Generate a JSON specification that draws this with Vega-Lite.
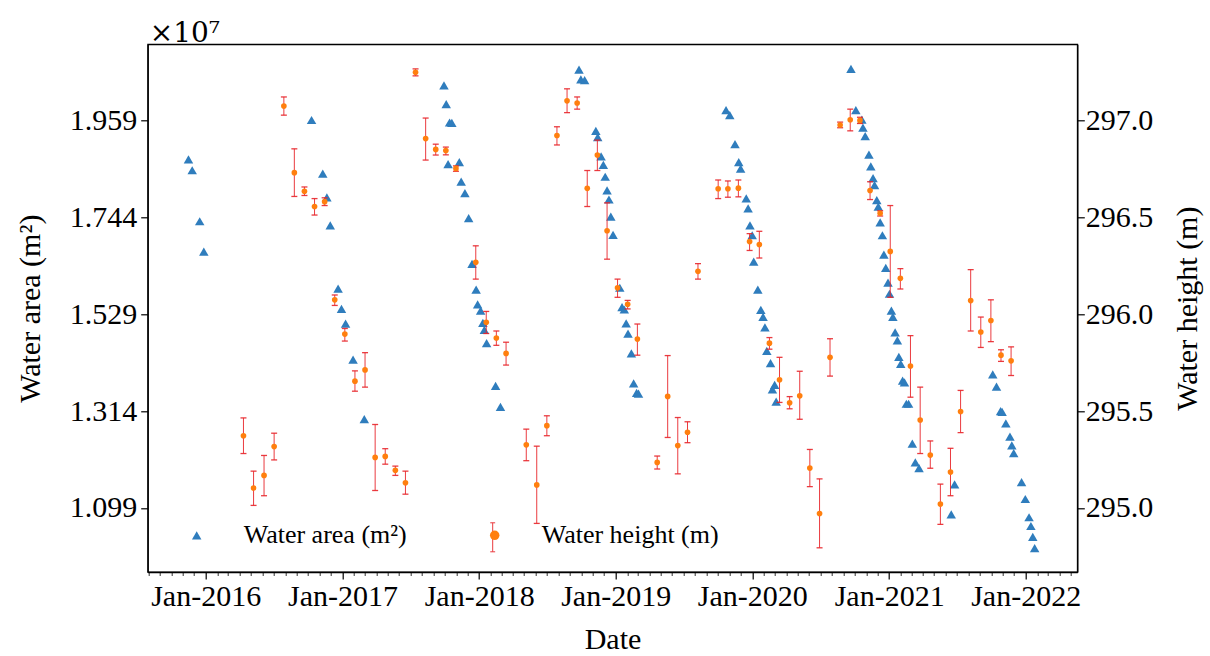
{
  "$schema": "https://vega.github.io/schema/vega-lite/v6.json",
  "width": 929.6,
  "height": 527.7,
  "autosize": {"type": "none"},
  "padding": {"left": 147.7, "top": 44.3, "right": 132.7, "bottom": 84},
  "background": "white",
  "config": {
    "font": "Liberation Serif",
    "view": {"stroke": "#000", "strokeWidth": 1.3},
    "axis": {
      "labelFont": "Liberation Serif", "titleFont": "Liberation Serif",
      "labelFontSize": 30, "titleFontSize": 30, "titleFontWeight": "normal",
      "labelColor": "#000", "titleColor": "#000", "tickColor": "#000", "domainColor": "#000",
      "grid": false, "tickSize": 7, "tickWidth": 1.2, "domainWidth": 1.3
    }
  },
  "title": {"text": "×10⁷", "anchor": "start", "frame": "group", "fontSize": 28, "fontWeight": "normal", "font": "DejaVu Serif", "color": "#000", "offset": -4, "dx": 2},
  "datasets": {
    "area": [
      {"date": "2015-11-16", "area": 18730000, "series": "Water area (m²)"},
      {"date": "2015-11-26", "area": 18490000, "series": "Water area (m²)"},
      {"date": "2015-12-16", "area": 17357000, "series": "Water area (m²)"},
      {"date": "2015-12-27", "area": 16680000, "series": "Water area (m²)"},
      {"date": "2016-10-10", "area": 19606000, "series": "Water area (m²)"},
      {"date": "2016-11-09", "area": 18415000, "series": "Water area (m²)"},
      {"date": "2016-11-20", "area": 17886000, "series": "Water area (m²)"},
      {"date": "2016-11-29", "area": 17264000, "series": "Water area (m²)"},
      {"date": "2016-12-20", "area": 15863000, "series": "Water area (m²)"},
      {"date": "2016-12-29", "area": 15412000, "series": "Water area (m²)"},
      {"date": "2017-01-09", "area": 15085000, "series": "Water area (m²)"},
      {"date": "2017-01-29", "area": 14284000, "series": "Water area (m²)"},
      {"date": "2017-02-28", "area": 12961000, "series": "Water area (m²)"},
      {"date": "2017-09-29", "area": 20376000, "series": "Water area (m²)"},
      {"date": "2017-10-05", "area": 19956000, "series": "Water area (m²)"},
      {"date": "2017-10-10", "area": 18625000, "series": "Water area (m²)"},
      {"date": "2017-10-14", "area": 19550000, "series": "Water area (m²)"},
      {"date": "2017-10-20", "area": 19540000, "series": "Water area (m²)"},
      {"date": "2017-11-09", "area": 18670000, "series": "Water area (m²)"},
      {"date": "2017-11-14", "area": 18236000, "series": "Water area (m²)"},
      {"date": "2017-11-24", "area": 17980000, "series": "Water area (m²)"},
      {"date": "2017-12-04", "area": 17427000, "series": "Water area (m²)"},
      {"date": "2017-12-13", "area": 16408000, "series": "Water area (m²)"},
      {"date": "2017-12-24", "area": 15840000, "series": "Water area (m²)"},
      {"date": "2017-12-28", "area": 15510000, "series": "Water area (m²)"},
      {"date": "2018-01-05", "area": 15373000, "series": "Water area (m²)"},
      {"date": "2018-01-11", "area": 15100000, "series": "Water area (m²)"},
      {"date": "2018-01-15", "area": 14945000, "series": "Water area (m²)"},
      {"date": "2018-01-21", "area": 14650000, "series": "Water area (m²)"},
      {"date": "2018-02-14", "area": 13701000, "series": "Water area (m²)"},
      {"date": "2018-02-27", "area": 13234000, "series": "Water area (m²)"},
      {"date": "2018-09-25", "area": 20726000, "series": "Water area (m²)"},
      {"date": "2018-09-30", "area": 20508000, "series": "Water area (m²)"},
      {"date": "2018-10-10", "area": 20492000, "series": "Water area (m²)"},
      {"date": "2018-11-09", "area": 19364000, "series": "Water area (m²)"},
      {"date": "2018-11-14", "area": 19224000, "series": "Water area (m²)"},
      {"date": "2018-11-23", "area": 18796000, "series": "Water area (m²)"},
      {"date": "2018-11-29", "area": 18610000, "series": "Water area (m²)"},
      {"date": "2018-12-04", "area": 18345000, "series": "Water area (m²)"},
      {"date": "2018-12-09", "area": 18042000, "series": "Water area (m²)"},
      {"date": "2018-12-14", "area": 17840000, "series": "Water area (m²)"},
      {"date": "2018-12-19", "area": 17458000, "series": "Water area (m²)"},
      {"date": "2018-12-25", "area": 17054000, "series": "Water area (m²)"},
      {"date": "2019-01-12", "area": 15880000, "series": "Water area (m²)"},
      {"date": "2019-01-18", "area": 15450000, "series": "Water area (m²)"},
      {"date": "2019-01-24", "area": 15397000, "series": "Water area (m²)"},
      {"date": "2019-01-29", "area": 15090000, "series": "Water area (m²)"},
      {"date": "2019-02-03", "area": 14860000, "series": "Water area (m²)"},
      {"date": "2019-02-12", "area": 14424000, "series": "Water area (m²)"},
      {"date": "2019-02-18", "area": 13755000, "series": "Water area (m²)"},
      {"date": "2019-02-26", "area": 13545000, "series": "Water area (m²)"},
      {"date": "2019-03-03", "area": 13530000, "series": "Water area (m²)"},
      {"date": "2019-10-23", "area": 19823000, "series": "Water area (m²)"},
      {"date": "2019-11-02", "area": 19714000, "series": "Water area (m²)"},
      {"date": "2019-11-16", "area": 19069000, "series": "Water area (m²)"},
      {"date": "2019-11-26", "area": 18672000, "series": "Water area (m²)"},
      {"date": "2019-12-01", "area": 18524000, "series": "Water area (m²)"},
      {"date": "2019-12-16", "area": 17863000, "series": "Water area (m²)"},
      {"date": "2019-12-21", "area": 17645000, "series": "Water area (m²)"},
      {"date": "2019-12-26", "area": 17264000, "series": "Water area (m²)"},
      {"date": "2020-01-01", "area": 17046000, "series": "Water area (m²)"},
      {"date": "2020-01-05", "area": 16462000, "series": "Water area (m²)"},
      {"date": "2020-01-16", "area": 15840000, "series": "Water area (m²)"},
      {"date": "2020-01-24", "area": 15389000, "series": "Water area (m²)"},
      {"date": "2020-01-30", "area": 15233000, "series": "Water area (m²)"},
      {"date": "2020-02-04", "area": 15000000, "series": "Water area (m²)"},
      {"date": "2020-02-09", "area": 14479000, "series": "Water area (m²)"},
      {"date": "2020-02-19", "area": 14206000, "series": "Water area (m²)"},
      {"date": "2020-02-24", "area": 13623000, "series": "Water area (m²)"},
      {"date": "2020-03-01", "area": 13724000, "series": "Water area (m²)"},
      {"date": "2020-03-05", "area": 13350000, "series": "Water area (m²)"},
      {"date": "2020-09-21", "area": 20741000, "series": "Water area (m²)"},
      {"date": "2020-10-04", "area": 19823000, "series": "Water area (m²)"},
      {"date": "2020-10-20", "area": 19613000, "series": "Water area (m²)"},
      {"date": "2020-10-23", "area": 19434000, "series": "Water area (m²)"},
      {"date": "2020-10-29", "area": 19248000, "series": "Water area (m²)"},
      {"date": "2020-11-08", "area": 18835000, "series": "Water area (m²)"},
      {"date": "2020-11-13", "area": 18578000, "series": "Water area (m²)"},
      {"date": "2020-11-19", "area": 18314000, "series": "Water area (m²)"},
      {"date": "2020-11-23", "area": 18158000, "series": "Water area (m²)"},
      {"date": "2020-11-29", "area": 17824000, "series": "Water area (m²)"},
      {"date": "2020-12-03", "area": 17684000, "series": "Water area (m²)"},
      {"date": "2020-12-08", "area": 17334000, "series": "Water area (m²)"},
      {"date": "2020-12-14", "area": 17046000, "series": "Water area (m²)"},
      {"date": "2020-12-18", "area": 16618000, "series": "Water area (m²)"},
      {"date": "2020-12-23", "area": 16322000, "series": "Water area (m²)"},
      {"date": "2020-12-29", "area": 15996000, "series": "Water area (m²)"},
      {"date": "2021-01-02", "area": 15747000, "series": "Water area (m²)"},
      {"date": "2021-01-07", "area": 15373000, "series": "Water area (m²)"},
      {"date": "2021-01-11", "area": 15233000, "series": "Water area (m²)"},
      {"date": "2021-01-17", "area": 14890000, "series": "Water area (m²)"},
      {"date": "2021-01-23", "area": 14712000, "series": "Water area (m²)"},
      {"date": "2021-01-27", "area": 14346000, "series": "Water area (m²)"},
      {"date": "2021-02-01", "area": 14190000, "series": "Water area (m²)"},
      {"date": "2021-02-06", "area": 13817000, "series": "Water area (m²)"},
      {"date": "2021-02-11", "area": 13778000, "series": "Water area (m²)"},
      {"date": "2021-02-16", "area": 13304000, "series": "Water area (m²)"},
      {"date": "2021-02-22", "area": 13304000, "series": "Water area (m²)"},
      {"date": "2021-03-04", "area": 12417000, "series": "Water area (m²)"},
      {"date": "2021-03-12", "area": 12004000, "series": "Water area (m²)"},
      {"date": "2021-03-22", "area": 11872000, "series": "Water area (m²)"},
      {"date": "2021-06-16", "area": 10845000, "series": "Water area (m²)"},
      {"date": "2021-06-25", "area": 11514000, "series": "Water area (m²)"},
      {"date": "2021-10-05", "area": 13957000, "series": "Water area (m²)"},
      {"date": "2021-10-15", "area": 13685000, "series": "Water area (m²)"},
      {"date": "2021-10-26", "area": 13140000, "series": "Water area (m²)"},
      {"date": "2021-10-30", "area": 13125000, "series": "Water area (m²)"},
      {"date": "2021-11-09", "area": 12868000, "series": "Water area (m²)"},
      {"date": "2021-11-20", "area": 12572000, "series": "Water area (m²)"},
      {"date": "2021-11-25", "area": 12378000, "series": "Water area (m²)"},
      {"date": "2021-11-30", "area": 12207000, "series": "Water area (m²)"},
      {"date": "2021-12-21", "area": 11561000, "series": "Water area (m²)"},
      {"date": "2021-12-31", "area": 11188000, "series": "Water area (m²)"},
      {"date": "2022-01-10", "area": 10783000, "series": "Water area (m²)"},
      {"date": "2022-01-15", "area": 10589000, "series": "Water area (m²)"},
      {"date": "2022-01-20", "area": 10348000, "series": "Water area (m²)"},
      {"date": "2022-01-25", "area": 10099000, "series": "Water area (m²)"}
    ],
    "height": [
      {"date": "2016-04-11", "height": 295.373, "low": 295.281, "high": 295.465, "series": "Water height (m)"},
      {"date": "2016-05-08", "height": 295.103, "low": 295.013, "high": 295.190, "series": "Water height (m)"},
      {"date": "2016-06-05", "height": 295.168, "low": 295.063, "high": 295.271, "series": "Water height (m)"},
      {"date": "2016-07-02", "height": 295.317, "low": 295.248, "high": 295.386, "series": "Water height (m)"},
      {"date": "2016-07-28", "height": 297.076, "low": 297.029, "high": 297.123, "series": "Water height (m)"},
      {"date": "2016-08-25", "height": 296.732, "low": 296.609, "high": 296.855, "series": "Water height (m)"},
      {"date": "2016-09-21", "height": 296.636, "low": 296.614, "high": 296.658, "series": "Water height (m)"},
      {"date": "2016-10-18", "height": 296.557, "low": 296.513, "high": 296.598, "series": "Water height (m)"},
      {"date": "2016-11-14", "height": 296.582, "low": 296.562, "high": 296.602, "series": "Water height (m)"},
      {"date": "2016-12-11", "height": 296.075, "low": 296.046, "high": 296.100, "series": "Water height (m)"},
      {"date": "2017-01-07", "height": 295.898, "low": 295.862, "high": 295.927, "series": "Water height (m)"},
      {"date": "2017-02-03", "height": 295.655, "low": 295.603, "high": 295.708, "series": "Water height (m)"},
      {"date": "2017-03-02", "height": 295.713, "low": 295.624, "high": 295.802, "series": "Water height (m)"},
      {"date": "2017-03-29", "height": 295.261, "low": 295.090, "high": 295.431, "series": "Water height (m)"},
      {"date": "2017-04-25", "height": 295.266, "low": 295.226, "high": 295.306, "series": "Water height (m)"},
      {"date": "2017-05-22", "height": 295.194, "low": 295.168, "high": 295.216, "series": "Water height (m)"},
      {"date": "2017-06-18", "height": 295.130, "low": 295.071, "high": 295.190, "series": "Water height (m)"},
      {"date": "2017-07-15", "height": 297.250, "low": 297.232, "high": 297.268, "series": "Water height (m)"},
      {"date": "2017-08-11", "height": 296.908, "low": 296.797, "high": 297.014, "series": "Water height (m)"},
      {"date": "2017-09-07", "height": 296.852, "low": 296.823, "high": 296.879, "series": "Water height (m)"},
      {"date": "2017-10-04", "height": 296.846, "low": 296.824, "high": 296.864, "series": "Water height (m)"},
      {"date": "2017-10-31", "height": 296.754, "low": 296.739, "high": 296.767, "series": "Water height (m)"},
      {"date": "2017-12-23", "height": 296.269, "low": 296.182, "high": 296.354, "series": "Water height (m)"},
      {"date": "2018-01-20", "height": 295.959, "low": 295.901, "high": 296.015, "series": "Water height (m)"},
      {"date": "2018-02-16", "height": 295.878, "low": 295.840, "high": 295.914, "series": "Water height (m)"},
      {"date": "2018-03-14", "height": 295.798, "low": 295.738, "high": 295.856, "series": "Water height (m)"},
      {"date": "2018-05-07", "height": 295.326, "low": 295.244, "high": 295.407, "series": "Water height (m)"},
      {"date": "2018-06-04", "height": 295.119, "low": 294.920, "high": 295.319, "series": "Water height (m)"},
      {"date": "2018-07-01", "height": 295.425, "low": 295.373, "high": 295.476, "series": "Water height (m)"},
      {"date": "2018-07-28", "height": 296.924, "low": 296.875, "high": 296.969, "series": "Water height (m)"},
      {"date": "2018-08-24", "height": 297.103, "low": 297.042, "high": 297.165, "series": "Water height (m)"},
      {"date": "2018-09-20", "height": 297.092, "low": 297.060, "high": 297.123, "series": "Water height (m)"},
      {"date": "2018-10-17", "height": 296.651, "low": 296.557, "high": 296.743, "series": "Water height (m)"},
      {"date": "2018-11-13", "height": 296.823, "low": 296.743, "high": 296.900, "series": "Water height (m)"},
      {"date": "2018-12-09", "height": 296.432, "low": 296.285, "high": 296.576, "series": "Water height (m)"},
      {"date": "2019-01-06", "height": 296.137, "low": 296.088, "high": 296.182, "series": "Water height (m)"},
      {"date": "2019-02-02", "height": 296.052, "low": 296.028, "high": 296.072, "series": "Water height (m)"},
      {"date": "2019-02-28", "height": 295.872, "low": 295.789, "high": 295.950, "series": "Water height (m)"},
      {"date": "2019-04-22", "height": 295.235, "low": 295.201, "high": 295.268, "series": "Water height (m)"},
      {"date": "2019-05-20", "height": 295.576, "low": 295.364, "high": 295.787, "series": "Water height (m)"},
      {"date": "2019-06-16", "height": 295.322, "low": 295.176, "high": 295.467, "series": "Water height (m)"},
      {"date": "2019-07-12", "height": 295.391, "low": 295.337, "high": 295.445, "series": "Water height (m)"},
      {"date": "2019-08-09", "height": 296.222, "low": 296.182, "high": 296.262, "series": "Water height (m)"},
      {"date": "2019-10-02", "height": 296.649, "low": 296.598, "high": 296.694, "series": "Water height (m)"},
      {"date": "2019-10-28", "height": 296.649, "low": 296.605, "high": 296.689, "series": "Water height (m)"},
      {"date": "2019-11-25", "height": 296.652, "low": 296.607, "high": 296.694, "series": "Water height (m)"},
      {"date": "2019-12-25", "height": 296.376, "low": 296.330, "high": 296.417, "series": "Water height (m)"},
      {"date": "2020-01-20", "height": 296.361, "low": 296.291, "high": 296.429, "series": "Water height (m)"},
      {"date": "2020-02-16", "height": 295.851, "low": 295.820, "high": 295.880, "series": "Water height (m)"},
      {"date": "2020-03-14", "height": 295.662, "low": 295.545, "high": 295.778, "series": "Water height (m)"},
      {"date": "2020-04-10", "height": 295.543, "low": 295.512, "high": 295.575, "series": "Water height (m)"},
      {"date": "2020-05-07", "height": 295.579, "low": 295.458, "high": 295.706, "series": "Water height (m)"},
      {"date": "2020-06-03", "height": 295.206, "low": 295.110, "high": 295.302, "series": "Water height (m)"},
      {"date": "2020-06-29", "height": 294.971, "low": 294.794, "high": 295.150, "series": "Water height (m)"},
      {"date": "2020-07-27", "height": 295.778, "low": 295.681, "high": 295.874, "series": "Water height (m)"},
      {"date": "2020-08-23", "height": 296.978, "low": 296.964, "high": 296.993, "series": "Water height (m)"},
      {"date": "2020-09-19", "height": 297.005, "low": 296.948, "high": 297.060, "series": "Water height (m)"},
      {"date": "2020-10-15", "height": 297.002, "low": 296.986, "high": 297.018, "series": "Water height (m)"},
      {"date": "2020-11-11", "height": 296.640, "low": 296.593, "high": 296.685, "series": "Water height (m)"},
      {"date": "2020-12-08", "height": 296.522, "low": 296.508, "high": 296.535, "series": "Water height (m)"},
      {"date": "2021-01-04", "height": 296.325, "low": 296.088, "high": 296.562, "series": "Water height (m)"},
      {"date": "2021-01-31", "height": 296.186, "low": 296.131, "high": 296.236, "series": "Water height (m)"},
      {"date": "2021-02-27", "height": 295.733, "low": 295.572, "high": 295.890, "series": "Water height (m)"},
      {"date": "2021-03-25", "height": 295.454, "low": 295.281, "high": 295.624, "series": "Water height (m)"},
      {"date": "2021-04-21", "height": 295.273, "low": 295.205, "high": 295.346, "series": "Water height (m)"},
      {"date": "2021-05-18", "height": 295.020, "low": 294.915, "high": 295.123, "series": "Water height (m)"},
      {"date": "2021-06-14", "height": 295.185, "low": 295.063, "high": 295.308, "series": "Water height (m)"},
      {"date": "2021-07-11", "height": 295.498, "low": 295.389, "high": 295.607, "series": "Water height (m)"},
      {"date": "2021-08-07", "height": 296.071, "low": 295.914, "high": 296.231, "series": "Water height (m)"},
      {"date": "2021-09-03", "height": 295.909, "low": 295.829, "high": 295.986, "series": "Water height (m)"},
      {"date": "2021-09-30", "height": 295.968, "low": 295.859, "high": 296.075, "series": "Water height (m)"},
      {"date": "2021-10-27", "height": 295.789, "low": 295.757, "high": 295.817, "series": "Water height (m)"},
      {"date": "2021-11-23", "height": 295.760, "low": 295.684, "high": 295.832, "series": "Water height (m)"}
    ]
  },
  "layer": [
    {
      "data": {"name": "area"},
      "mark": {"type": "point", "filled": true, "size": 90, "opacity": 1, "strokeWidth": 0},
      "encoding": {
        "x": {
          "field": "date", "type": "temporal", "title": "Date",
          "scale": {"type": "utc", "domain": [{"year": 2015, "month": 7, "date": 30, "utc": true}, {"year": 2022, "month": 5, "date": 19, "utc": true}]},
          "axis": {
            "values": [
              {"year": 2015, "month": 8, "date": 1, "utc": true}, {"year": 2015, "month": 9, "date": 1, "utc": true}, {"year": 2015, "month": 10, "date": 1, "utc": true}, {"year": 2015, "month": 11, "date": 1, "utc": true}, {"year": 2015, "month": 12, "date": 1, "utc": true},
              {"year": 2016, "month": 1, "date": 1, "utc": true}, {"year": 2016, "month": 2, "date": 1, "utc": true}, {"year": 2016, "month": 3, "date": 1, "utc": true}, {"year": 2016, "month": 4, "date": 1, "utc": true}, {"year": 2016, "month": 5, "date": 1, "utc": true}, {"year": 2016, "month": 6, "date": 1, "utc": true}, {"year": 2016, "month": 7, "date": 1, "utc": true}, {"year": 2016, "month": 8, "date": 1, "utc": true}, {"year": 2016, "month": 9, "date": 1, "utc": true}, {"year": 2016, "month": 10, "date": 1, "utc": true}, {"year": 2016, "month": 11, "date": 1, "utc": true}, {"year": 2016, "month": 12, "date": 1, "utc": true},
              {"year": 2017, "month": 1, "date": 1, "utc": true}, {"year": 2017, "month": 2, "date": 1, "utc": true}, {"year": 2017, "month": 3, "date": 1, "utc": true}, {"year": 2017, "month": 4, "date": 1, "utc": true}, {"year": 2017, "month": 5, "date": 1, "utc": true}, {"year": 2017, "month": 6, "date": 1, "utc": true}, {"year": 2017, "month": 7, "date": 1, "utc": true}, {"year": 2017, "month": 8, "date": 1, "utc": true}, {"year": 2017, "month": 9, "date": 1, "utc": true}, {"year": 2017, "month": 10, "date": 1, "utc": true}, {"year": 2017, "month": 11, "date": 1, "utc": true}, {"year": 2017, "month": 12, "date": 1, "utc": true},
              {"year": 2018, "month": 1, "date": 1, "utc": true}, {"year": 2018, "month": 2, "date": 1, "utc": true}, {"year": 2018, "month": 3, "date": 1, "utc": true}, {"year": 2018, "month": 4, "date": 1, "utc": true}, {"year": 2018, "month": 5, "date": 1, "utc": true}, {"year": 2018, "month": 6, "date": 1, "utc": true}, {"year": 2018, "month": 7, "date": 1, "utc": true}, {"year": 2018, "month": 8, "date": 1, "utc": true}, {"year": 2018, "month": 9, "date": 1, "utc": true}, {"year": 2018, "month": 10, "date": 1, "utc": true}, {"year": 2018, "month": 11, "date": 1, "utc": true}, {"year": 2018, "month": 12, "date": 1, "utc": true},
              {"year": 2019, "month": 1, "date": 1, "utc": true}, {"year": 2019, "month": 2, "date": 1, "utc": true}, {"year": 2019, "month": 3, "date": 1, "utc": true}, {"year": 2019, "month": 4, "date": 1, "utc": true}, {"year": 2019, "month": 5, "date": 1, "utc": true}, {"year": 2019, "month": 6, "date": 1, "utc": true}, {"year": 2019, "month": 7, "date": 1, "utc": true}, {"year": 2019, "month": 8, "date": 1, "utc": true}, {"year": 2019, "month": 9, "date": 1, "utc": true}, {"year": 2019, "month": 10, "date": 1, "utc": true}, {"year": 2019, "month": 11, "date": 1, "utc": true}, {"year": 2019, "month": 12, "date": 1, "utc": true},
              {"year": 2020, "month": 1, "date": 1, "utc": true}, {"year": 2020, "month": 2, "date": 1, "utc": true}, {"year": 2020, "month": 3, "date": 1, "utc": true}, {"year": 2020, "month": 4, "date": 1, "utc": true}, {"year": 2020, "month": 5, "date": 1, "utc": true}, {"year": 2020, "month": 6, "date": 1, "utc": true}, {"year": 2020, "month": 7, "date": 1, "utc": true}, {"year": 2020, "month": 8, "date": 1, "utc": true}, {"year": 2020, "month": 9, "date": 1, "utc": true}, {"year": 2020, "month": 10, "date": 1, "utc": true}, {"year": 2020, "month": 11, "date": 1, "utc": true}, {"year": 2020, "month": 12, "date": 1, "utc": true},
              {"year": 2021, "month": 1, "date": 1, "utc": true}, {"year": 2021, "month": 2, "date": 1, "utc": true}, {"year": 2021, "month": 3, "date": 1, "utc": true}, {"year": 2021, "month": 4, "date": 1, "utc": true}, {"year": 2021, "month": 5, "date": 1, "utc": true}, {"year": 2021, "month": 6, "date": 1, "utc": true}, {"year": 2021, "month": 7, "date": 1, "utc": true}, {"year": 2021, "month": 8, "date": 1, "utc": true}, {"year": 2021, "month": 9, "date": 1, "utc": true}, {"year": 2021, "month": 10, "date": 1, "utc": true}, {"year": 2021, "month": 11, "date": 1, "utc": true}, {"year": 2021, "month": 12, "date": 1, "utc": true},
              {"year": 2022, "month": 1, "date": 1, "utc": true}, {"year": 2022, "month": 2, "date": 1, "utc": true}, {"year": 2022, "month": 3, "date": 1, "utc": true}, {"year": 2022, "month": 4, "date": 1, "utc": true}, {"year": 2022, "month": 5, "date": 1, "utc": true}
            ],
            "tickCount": 1000,
            "labelExpr": "utcmonth(datum.value) == 0 ? utcFormat(datum.value, '%b-%Y') : ''",
            "labelOverlap": false, "labelFlush": false, "labelPadding": 2,
            "tickSize": {"condition": {"test": "utcmonth(datum.value) == 0", "value": 7}, "value": 3.5},
            "tickWidth": {"condition": {"test": "utcmonth(datum.value) == 0", "value": 1.2}, "value": 0.8},
            "titlePadding": 13
          }
        },
        "y": {
          "field": "area", "type": "quantitative", "title": "Water area (m²)",
          "scale": {"domain": [9567000, 21287000], "nice": false, "zero": false},
          "axis": {"orient": "left", "values": [10990000, 13140000, 15290000, 17440000, 19590000], "labelExpr": "format(datum.value / 10000000, '.3f')", "labelPadding": 4, "titlePadding": 24}
        },
        "color": {
          "field": "series", "type": "nominal",
          "scale": {"domain": ["Water area (m²)", "Water height (m)"], "range": ["#2f7dbd", "#ff7f0e"]},
          "legend": {"orient": "none", "legendX": 36, "legendY": 478, "direction": "horizontal", "title": null, "labelFont": "Liberation Serif", "labelFontSize": 26, "labelColor": "#000", "symbolSize": 90, "labelOffset": 34, "columnPadding": 74, "padding": 0, "labelLimit": 0, "symbolStrokeWidth": 0, "zindex": 2}
        },
        "shape": {
          "field": "series", "type": "nominal",
          "scale": {"domain": ["Water area (m²)", "Water height (m)"], "range": ["triangle-up", "circle"]},
          "legend": {"orient": "none", "legendX": 36, "legendY": 478, "direction": "horizontal", "title": null, "labelFont": "Liberation Serif", "labelFontSize": 26, "labelColor": "#000", "symbolSize": 90, "labelOffset": 34, "columnPadding": 74, "padding": 0, "labelLimit": 0, "symbolStrokeWidth": 0, "zindex": 2}
        }
      }
    },
    {
      "data": {"name": "height"},
      "layer": [
        {
          "mark": {"type": "rule", "color": "#e8262b", "opacity": 0.9},
          "encoding": {
            "x": {"field": "date", "type": "temporal", "title": "Date", "scale": {"type": "utc", "domain": [{"year": 2015, "month": 7, "date": 30, "utc": true}, {"year": 2022, "month": 5, "date": 19, "utc": true}]}},
            "y": {"field": "low", "type": "quantitative", "title": "Water height (m)", "scale": {"domain": [294.669, 297.395], "nice": false, "zero": false}},
            "y2": {"field": "high"},
            "strokeWidth": {
              "field": "series", "type": "nominal",
              "scale": {"domain": ["Water height (m)"], "range": [1.3]},
              "legend": {"orient": "none", "legendX": 345, "legendY": 493, "title": null, "symbolType": "M0,-1V1M-0.17,-1H0.17M-0.17,1H0.17", "symbolSize": 841, "symbolStrokeColor": "#e8262b", "symbolFillColor": "transparent", "symbolStrokeWidth": 1.3, "symbolOpacity": 0.9, "labelExpr": "''", "labelFontSize": 1, "padding": 0, "zindex": 1}
            }
          }
        },
        {
          "mark": {"type": "tick", "orient": "horizontal", "color": "#e8262b", "size": 6, "thickness": 1.3, "opacity": 0.9},
          "encoding": {
            "x": {"field": "date", "type": "temporal", "title": "Date", "scale": {"type": "utc", "domain": [{"year": 2015, "month": 7, "date": 30, "utc": true}, {"year": 2022, "month": 5, "date": 19, "utc": true}]}},
            "y": {"field": "low", "type": "quantitative", "title": "Water height (m)", "scale": {"domain": [294.669, 297.395], "nice": false, "zero": false}}
          }
        },
        {
          "mark": {"type": "tick", "orient": "horizontal", "color": "#e8262b", "size": 6, "thickness": 1.3, "opacity": 0.9},
          "encoding": {
            "x": {"field": "date", "type": "temporal", "title": "Date", "scale": {"type": "utc", "domain": [{"year": 2015, "month": 7, "date": 30, "utc": true}, {"year": 2022, "month": 5, "date": 19, "utc": true}]}},
            "y": {"field": "high", "type": "quantitative", "title": "Water height (m)", "scale": {"domain": [294.669, 297.395], "nice": false, "zero": false}}
          }
        },
        {
          "mark": {"type": "point", "filled": true, "size": 32, "opacity": 1, "strokeWidth": 0},
          "encoding": {
            "x": {"field": "date", "type": "temporal", "title": "Date", "scale": {"type": "utc", "domain": [{"year": 2015, "month": 7, "date": 30, "utc": true}, {"year": 2022, "month": 5, "date": 19, "utc": true}]}},
            "y": {
              "field": "height", "type": "quantitative", "title": "Water height (m)",
              "scale": {"domain": [294.669, 297.395], "nice": false, "zero": false},
              "axis": {"orient": "right", "values": [295, 295.5, 296, 296.5, 297], "format": ".1f", "labelPadding": 1, "titlePadding": 20, "titleAngle": 270, "titleBaseline": "top"}
            },
            "color": {"field": "series", "type": "nominal", "scale": {"domain": ["Water area (m²)", "Water height (m)"], "range": ["#2f7dbd", "#ff7f0e"]}},
            "shape": {"field": "series", "type": "nominal", "scale": {"domain": ["Water area (m²)", "Water height (m)"], "range": ["triangle-up", "circle"]}}
          }
        }
      ]
    }
  ],
  "resolve": {"scale": {"y": "independent"}}
}
